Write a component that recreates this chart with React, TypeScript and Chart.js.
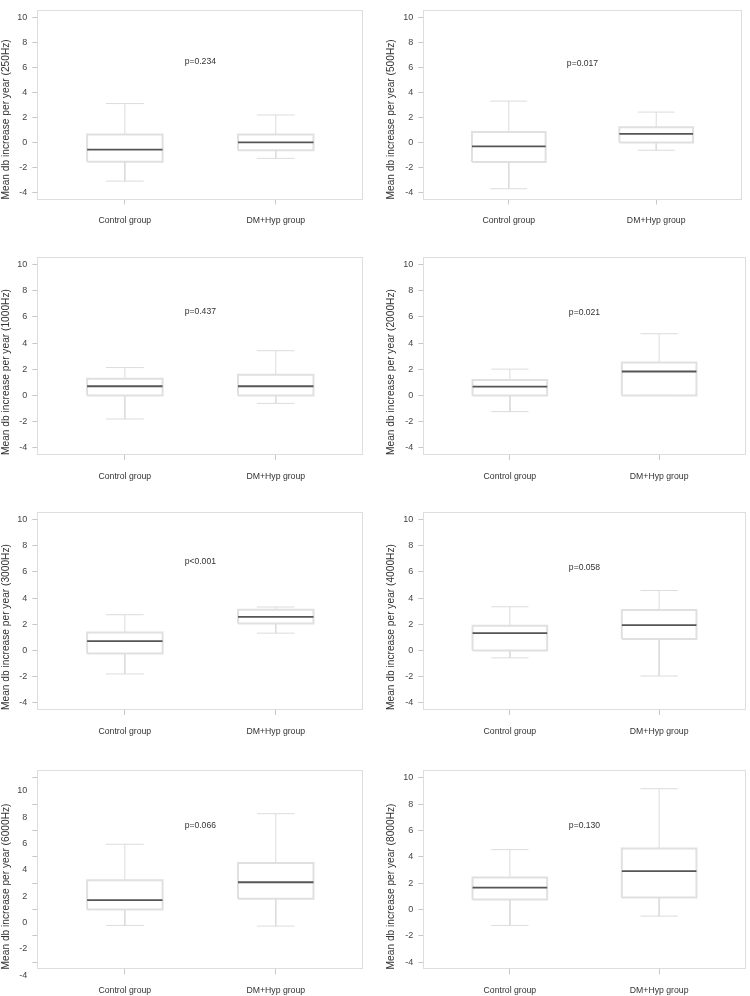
import React, { useEffect, useRef } from "react";
import { Chart, registerables } from "chart.js";

Chart.register(...registerables);

// ---------- data ----------
const categories = ["Control group", "DM+Hyp group"];
const frequencies = ["250Hz", "500Hz", "1000Hz", "2000Hz", "3000Hz", "4000Hz", "6000Hz", "8000Hz"];
const pValueLabels = ["p=0.234", "p=0.017", "p=0.437", "p=0.021", "p<0.001", "p=0.058", "p=0.066", "p=0.130"];
const yTickValues = [-4, -2, 0, 2, 4, 6, 8, 10];

const controlMin = [-3.09, -3.7, -1.81, -1.24, -1.8, -0.57, -1.22, -1.22];
const controlQ1 = [-1.55, -1.56, 0, 0, -0.23, 0, 0, 0.75];
const controlMedian = [-0.57, -0.32, 0.7, 0.67, 0.71, 1.32, 0.7, 1.66];
const controlQ3 = [0.64, 0.84, 1.28, 1.17, 1.37, 1.88, 2.22, 2.42];
const controlMax = [3.11, 3.31, 2.13, 2.01, 2.73, 3.34, 4.95, 4.54];

const dmMin = [-1.27, -0.62, -0.61, 0, 1.32, -1.96, -1.27, -0.51];
const dmQ1 = [-0.62, 0, 0, 0, 2.05, 0.87, 0.8, 0.9];
const dmMedian = [0, 0.69, 0.7, 1.83, 2.56, 1.93, 2.06, 2.9];
const dmQ3 = [0.64, 1.22, 1.58, 2.52, 3.11, 3.09, 3.53, 4.62];
const dmMax = [2.2, 2.43, 3.42, 4.72, 3.32, 4.58, 7.27, 9.17];

// ---------- layout / style (not data) ----------
const Y_MIN = -4.56;
const Y_MAX = 10.56;
const X_MIN = 0.42;
const X_MAX = 2.58;
const BOX_HALF = 0.25;
const STAPLE_HALF = 0.125;
const P_LABEL_X = 1.5;
const pLabelY = [6.47, 6.32, 6.43, 6.32, 6.76, 6.34, 6.38, 6.38];

const FONT = "'Liberation Sans', Arial, Helvetica, sans-serif";
const colCanvasLeft = [0, 375];
const colPadLeft = [0, 10];
const colPlotLeft = [37.3, 423.3];
const rowCanvasTop = [0, 247, 502, 760];
const rowCanvasH = [247, 255, 258, 236];
const rowPlotTop = [0, 255, 512, 770];
const rowPlotBottom = [199.5, 455, 710, 969.4];
const X_AXIS_H = 26;

function plotRight(col: number, row: number) {
  if (col === 0) return 363.3;
  return row === 0 ? 741.7 : 745.7;
}

const groups = [
  { min: controlMin, q1: controlQ1, med: controlMedian, q3: controlQ3, max: controlMax },
  { min: dmMin, q1: dmQ1, med: dmMedian, q3: dmQ3, max: dmMax },
];

function buildDatasets(i: number) {
  const whisk: any[] = [];
  const box: any[] = [];
  const med: any[] = [];
  groups.forEach((g, gi) => {
    const x = gi + 1;
    whisk.push(
      { x, y: g.q3[i] }, { x, y: g.max[i] }, { x, y: null },
      { x: x - STAPLE_HALF, y: g.max[i] }, { x: x + STAPLE_HALF, y: g.max[i] }, { x, y: null },
      { x, y: g.q1[i] }, { x, y: g.min[i] }, { x, y: null },
      { x: x - STAPLE_HALF, y: g.min[i] }, { x: x + STAPLE_HALF, y: g.min[i] }, { x, y: null }
    );
    box.push(
      { x: x - BOX_HALF, y: g.q1[i] }, { x: x + BOX_HALF, y: g.q1[i] },
      { x: x + BOX_HALF, y: g.q3[i] }, { x: x - BOX_HALF, y: g.q3[i] },
      { x: x - BOX_HALF, y: g.q1[i] }, { x, y: null }
    );
    med.push({ x: x - BOX_HALF, y: g.med[i] }, { x: x + BOX_HALF, y: g.med[i] }, { x, y: null });
  });
  const common = { pointRadius: 0, pointHoverRadius: 0, tension: 0, fill: false, spanGaps: false };
  return [
    { ...common, data: med, borderColor: "#555555", borderWidth: 1.8 },
    { ...common, data: box, borderColor: "#e0e0e0", borderWidth: 2, borderJoinStyle: "miter" },
    { ...common, data: whisk, borderColor: "#dcdcdc", borderWidth: 1 },
  ];
}

function panelGeom(i: number) {
  const col = i % 2;
  const row = Math.floor(i / 2);
  const cl = colCanvasLeft[col];
  const ct = rowCanvasTop[row];
  const cw = 375;
  const ch = rowCanvasH[row];
  const padLeft = colPadLeft[col];
  const yW = colPlotLeft[col] - cl - padLeft;
  const padRight = cl + cw - plotRight(col, row);
  const padTop = rowPlotTop[row] - ct;
  const padBottom = ch - (rowPlotBottom[row] - ct) - X_AXIS_H;
  return { col, row, cl, ct, cw, ch, padLeft, padRight, padTop, padBottom, yW };
}

const boxBorderPlugin = {
  id: "boxBorder",
  beforeDatasetsDraw(chart: any) {
    const { ctx, chartArea } = chart;
    ctx.save();
    ctx.strokeStyle = "#dddddd";
    ctx.lineWidth = 1;
    const l = Math.round(chartArea.left) + 0.5;
    const t = Math.round(chartArea.top) + 0.5;
    const r = Math.round(chartArea.right) - 0.5;
    const b = Math.round(chartArea.bottom) - 0.5;
    ctx.strokeRect(l, t, r - l, b - t);
    ctx.restore();
  },
};

function Panel({ idx }: { idx: number }) {
  const ref = useRef<HTMLCanvasElement>(null);
  const g = panelGeom(idx);
  useEffect(() => {
    const pPlugin = {
      id: "pLabel",
      afterDatasetsDraw(chart: any) {
        const { ctx, scales } = chart;
        ctx.save();
        ctx.font = `8.6px ${FONT}`;
        ctx.fillStyle = "#333333";
        ctx.textAlign = "center";
        ctx.textBaseline = "middle";
        ctx.fillText(pValueLabels[idx], scales.x.getPixelForValue(P_LABEL_X), scales.y.getPixelForValue(pLabelY[idx]));
        ctx.restore();
      },
    };
    const chart = new Chart(ref.current as HTMLCanvasElement, {
      type: "line",
      data: { datasets: buildDatasets(idx) as any },
      options: {
        animation: false,
        responsive: false,
        events: [],
        layout: { padding: { left: g.padLeft, right: g.padRight, top: g.padTop, bottom: g.padBottom } },
        plugins: { legend: { display: false }, tooltip: { enabled: false } },
        scales: {
          x: {
            type: "linear",
            min: X_MIN,
            max: X_MAX,
            afterBuildTicks: (s: any) => {
              s.ticks = categories.map((_, k) => ({ value: k + 1 }));
            },
            afterFit: (s: any) => {
              s.height = X_AXIS_H;
            },
            grid: { display: true, drawOnChartArea: false, drawTicks: true, tickLength: 5, color: "#c8c8c8" },
            border: { display: false },
            ticks: {
              autoSkip: false,
              maxRotation: 0,
              minRotation: 0,
              padding: 11,
              color: "#333333",
              font: { family: FONT, size: 8.7 },
              callback: (v: any) => categories[Math.round(Number(v)) - 1] ?? "",
            },
          },
          y: {
            type: "linear",
            min: Y_MIN,
            max: Y_MAX,
            afterBuildTicks: (s: any) => {
              s.ticks = yTickValues.map((v) => ({ value: v }));
            },
            afterFit: (s: any) => {
              s.width = g.yW;
            },
            grid: { display: true, drawOnChartArea: false, drawTicks: true, tickLength: 5, color: "#c8c8c8" },
            border: { display: false },
            title: {
              display: true,
              text: `Mean db increase per year (${frequencies[idx]})`,
              align: "start",
              color: "#333333",
              padding: 0,
              font: { family: FONT, size: 10.2 },
            },
            ticks: {
              autoSkip: false,
              padding: 5,
              labelOffset: idx === 6 ? 13 : 0,
              color: "#444444",
              font: { family: FONT, size: 9 },
            },
          },
        },
      },
      plugins: [boxBorderPlugin, pPlugin],
    } as any);
    return () => chart.destroy();
  }, [idx]);
  return (
    <canvas
      ref={ref}
      width={g.cw}
      height={g.ch}
      style={{ position: "absolute", left: g.cl, top: g.ct, width: g.cw, height: g.ch }}
    />
  );
}

export default function App() {
  return (
    <div style={{ position: "absolute", left: 0, top: 0, width: 750, height: 996, background: "#ffffff", overflow: "hidden" }}>
      {frequencies.map((_, i) => (
        <Panel key={i} idx={i} />
      ))}
    </div>
  );
}
